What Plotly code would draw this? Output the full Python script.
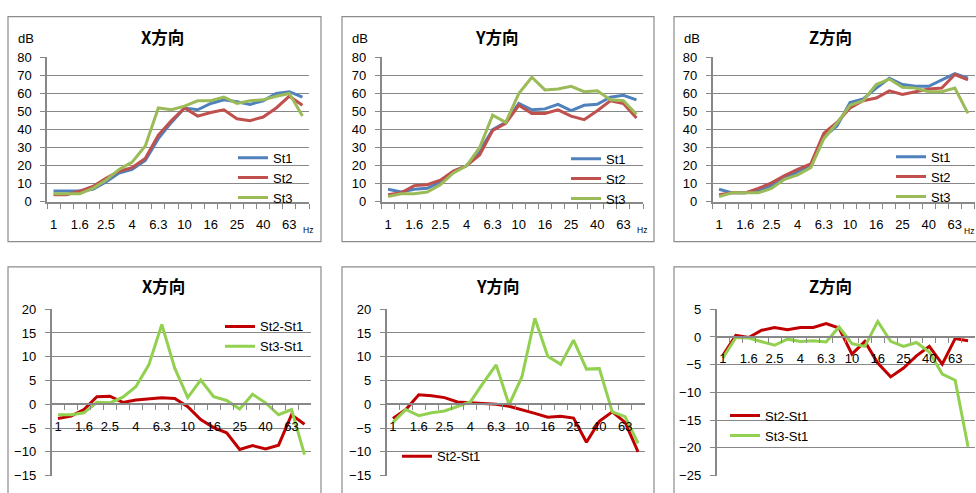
import plotly.graph_objects as go

W, H = 976, 493

# ---------------- data ----------------
freqs = ["1", "1.25", "1.6", "2", "2.5", "3.15", "4", "5", "6.3", "8",
         "10", "12.5", "16", "20", "25", "31.5", "40", "50", "63", "80"]
freq_labels = [f if i % 2 == 0 else "" for i, f in enumerate(freqs)]

# Top row: level (dB)
x_st1 = [6, 6, 6, 7, 11, 16, 18, 23, 35, 44, 52, 51, 54.5, 56.5, 55.5, 54, 56, 60, 61, 58]
x_st2 = [4, 4, 6, 8.5, 13, 17, 19, 24, 37, 45, 52, 47.5, 49.5, 51, 46, 45, 47, 52, 58.5, 53.5]
x_st3 = [4.5, 4.5, 4.5, 7.5, 12, 18, 22, 31, 52, 51, 53, 56, 56, 58, 54.5, 56, 56.5, 58.5, 60, 47.5]

y_st1 = [7, 5.5, 7, 7.5, 11, 17, 20, 28, 40, 44, 54.5, 51, 51.5, 54, 50.5, 53.5, 54, 58, 59, 56.5]
y_st2 = [4, 5, 9, 9.5, 12, 17, 20, 26, 39.5, 43.5, 53.5, 49, 49, 51, 47.5, 45.5, 50.5, 56, 54.5, 46.5]
y_st3 = [3, 4.5, 4.5, 5.5, 9.5, 16, 20, 30, 48, 44, 60, 69, 62, 62.5, 64, 61, 61.5, 56.5, 56, 48.5]

z_st1 = [7, 5, 5, 6, 9, 13.5, 16.5, 20, 36, 42, 55, 57, 63, 68.5, 65, 64, 64, 67.5, 71, 68.5]
z_st2 = [4, 5, 5, 7.5, 10.5, 14.5, 18, 21, 38, 44, 52, 56, 57.5, 61.5, 59.5, 61, 62.5, 63, 70.5, 67.5]
z_st3 = [3, 5, 5, 5, 7.5, 12.5, 15, 19, 35, 43.5, 53.5, 56, 65, 68, 63.5, 63, 61, 61, 63, 49]

# Bottom row: differences
x_d21 = [-3, -2.5, -1.1, 1.6, 1.7, 0.4, 0.9, 1.1, 1.35, 1.2, -0.5, -3.2, -4.9, -6, -9.5, -8.7, -9.4, -8.6, -2.2, -4.2]
x_d31 = [-2.2, -2.2, -1.8, 0.4, 0.3, 1.5, 3.7, 8.3, 16.8, 7.6, 1.4, 5.1, 1.6, 0.8, -1, 2.1, 0.3, -2.2, -1.1, -10.6]
y_d21 = [-3, -1.1, 2, 1.8, 1.4, 0.5, 0.3, 0.1, 0, -0.4, -1.1, -1.9, -2.7, -2.5, -2.9, -8, -3.6, -1.6, -3.8, -10]
y_d31 = [-3.8, -1.1, -2.4, -1.8, -1.4, -0.4, 0.5, 4.5, 8.3, -0.1, 5.8, 18.1, 10.1, 8.4, 13.5, 7.4, 7.5, -1.6, -2.6, -8.2]
z_d21 = [-3.3, 0.3, -0.1, 1.2, 1.7, 1.3, 1.7, 1.7, 2.4, 1.6, -3.1, -0.8, -4.7, -7.2, -5.6, -3.4, -1.7, -4.9, -0.3, -0.7]
z_d31 = [-3.8, -0.1, -0.2, -0.9, -1.5, -0.4, -0.8, -0.7, -0.9, 1.8, -1.2, -1.7, 2.8, -0.8, -1.7, -1.0, -2.7, -6.7, -7.8, -19.8]

titles = ["X方向", "Y方向", "Z方向", "X方向", "Y方向", "Z方向"]

# ---------------- style ----------------
C1, C2, C3 = "#4F81BD", "#C0504D", "#9BBB59"
D2, D3 = "#C00000", "#92D050"
GRID = "#888888"
BOX = "#8c8c8c"
FONT = "Liberation Sans, Noto Sans CJK JP, sans-serif"
TFONT = "Noto Sans CJK JP, sans-serif"
FS = 13


def px_x(v):
    return v / W


def px_y(v):
    return (H - v) / H


# panel geometry (pixels): plot-area left, right, top, bottom; y-range; dtick
panels = [
    dict(xl=47, xr=309, yt=52, yb=201, rng=[0, 80], dt=10, box=(8, 10, 321, 242),
         title=(162, 31), leg=(233, 140), db=(26, 32), hz=(308, 230), hzanchor="center"),
    dict(xl=381.5, xr=643, yt=52, yb=201, rng=[0, 80], dt=10, box=(342, 10, 654, 242),
         title=(497, 31), leg=(566, 141), db=(360, 32), hz=(642, 230), hzanchor="center"),
    dict(xl=712.5, xr=974.5, yt=52, yb=201, rng=[0, 80], dt=10, box=(674, 10, 990, 242),
         title=(830, 31), leg=(891, 139), db=(692, 33), hz=(976, 231), hzanchor="right"),
    dict(xl=51.5, xr=311, yt=311.7, yb=483.3, rng=[-15, 20], dt=5, box=(8, 268, 321, 520),
         title=(163, 288), leg=(220, 314), db=None, hz=None),
    dict(xl=386.5, xr=644.5, yt=311.7, yb=483.3, rng=[-15, 20], dt=5, box=(342, 268, 654, 520),
         title=(498, 288), leg=(397, 448), db=None, hz=None),
    dict(xl=716.5, xr=974.5, yt=311.7, yb=483.3, rng=[-25, 5], dt=5, box=(674, 268, 990, 520),
         title=(830, 288), leg=(725, 406), db=None, hz=None),
]

series = [
    [("St1", x_st1, C1, True), ("St2", x_st2, C2, True), ("St3", x_st3, C3, True)],
    [("St1", y_st1, C1, True), ("St2", y_st2, C2, True), ("St3", y_st3, C3, True)],
    [("St1", z_st1, C1, True), ("St2", z_st2, C2, True), ("St3", z_st3, C3, True)],
    [("St2-St1", x_d21, D2, True), ("St3-St1", x_d31, D3, True)],
    [("St2-St1", y_d21, D2, True), ("St3-St1", y_d31, D3, False)],
    [("St2-St1", z_d21, D2, True), ("St3-St1", z_d31, D3, True)],
]

fig = go.Figure()
layout = dict(
    width=W, height=H, autosize=False,
    margin=dict(l=0, r=0, t=0, b=0),
    paper_bgcolor="white", plot_bgcolor="rgba(0,0,0,0)",
    font=dict(family=FONT, size=FS, color="#000000"),
    hovermode=False,
)
shapes = []
annotations = []

for k, (p, ser) in enumerate(zip(panels, series)):
    n = k + 1
    xa = "x" if n == 1 else f"x{n}"
    ya = "y" if n == 1 else f"y{n}"
    xkey = "xaxis" if n == 1 else f"xaxis{n}"
    ykey = "yaxis" if n == 1 else f"yaxis{n}"
    lkey = "legend" if n == 1 else f"legend{n}"

    for name, vals, col, show in ser:
        fig.add_trace(go.Scatter(
            x=freqs, y=vals, name=name, mode="lines",
            line=dict(color=col, width=3),
            xaxis=xa, yaxis=ya, legend=lkey, showlegend=show,
        ))

    ydom = [px_y(p["yb"]), px_y(p["yt"])]
    lo, hi = p["rng"]
    xaxis = dict(
        domain=[px_x(p["xl"]), px_x(p["xr"])],
        type="category", categoryorder="array", categoryarray=freqs,
        range=[-0.5, len(freqs) - 0.5],
        tickmode="array", tickvals=freqs, ticktext=freq_labels,
        tickson="boundaries", ticks="outside", ticklen=5, tickwidth=1,
        tickcolor=GRID, showline=True, linecolor=GRID, linewidth=1.5,
        showgrid=False, zeroline=False, fixedrange=True, tickangle=0,
        tickfont=dict(family=FONT, size=FS, color="#000"),
        ticklabelstandoff=10,
    )
    if lo < 0:
        xaxis.update(anchor="free",
                     position=ydom[0] + (0 - lo) / (hi - lo) * (ydom[1] - ydom[0]))
    else:
        xaxis.update(anchor=ya)
    layout[xkey] = xaxis
    layout[ykey] = dict(
        domain=ydom, range=[lo, hi], tickmode="linear", tick0=0, dtick=p["dt"],
        showgrid=True, gridcolor=GRID, gridwidth=1.3,
        showline=True, linecolor=GRID, linewidth=1.5,
        ticks="outside", ticklen=5, tickcolor=GRID, tickwidth=1,
        zeroline=False, anchor=xa, fixedrange=True,
        tickfont=dict(family=FONT, size=FS, color="#000"),
        ticklabelstandoff=6,
    )
    layout[lkey] = dict(
        x=px_x(p["leg"][0]), y=px_y(p["leg"][1]), xanchor="left", yanchor="top",
        bgcolor="rgba(0,0,0,0)", borderwidth=0,
        font=dict(family=FONT, size=FS, color="#000"),
        tracegroupgap=0, itemclick=False, itemdoubleclick=False,
    )

    bx0, by0, bx1, by1 = p["box"]
    shapes.append(dict(type="rect", xref="paper", yref="paper",
                       x0=px_x(bx0), x1=px_x(bx1), y0=px_y(by1), y1=px_y(by0),
                       line=dict(color=BOX, width=1.2), fillcolor="rgba(0,0,0,0)",
                       layer="below"))
    annotations.append(dict(text=f"<b>{titles[k]}</b>", xref="paper", yref="paper",
                            x=px_x(p["title"][0]), y=px_y(p["title"][1]),
                            xanchor="center", yanchor="middle", showarrow=False,
                            font=dict(family=TFONT, size=16.5, color="#000")))
    if p["db"]:
        annotations.append(dict(text="dB", xref="paper", yref="paper",
                                x=px_x(p["db"][0]), y=px_y(p["db"][1]),
                                xanchor="center", yanchor="middle", showarrow=False,
                                font=dict(family=FONT, size=FS, color="#000")))
    if p["hz"]:
        annotations.append(dict(text="Hz", xref="paper", yref="paper",
                                x=px_x(p["hz"][0]), y=px_y(p["hz"][1]),
                                xanchor=p["hzanchor"], yanchor="middle", showarrow=False,
                                font=dict(family=FONT, size=8.5, color="#000")))

layout["shapes"] = shapes
layout["annotations"] = annotations
fig.update_layout(**layout)
fig.write_html("out.html")
